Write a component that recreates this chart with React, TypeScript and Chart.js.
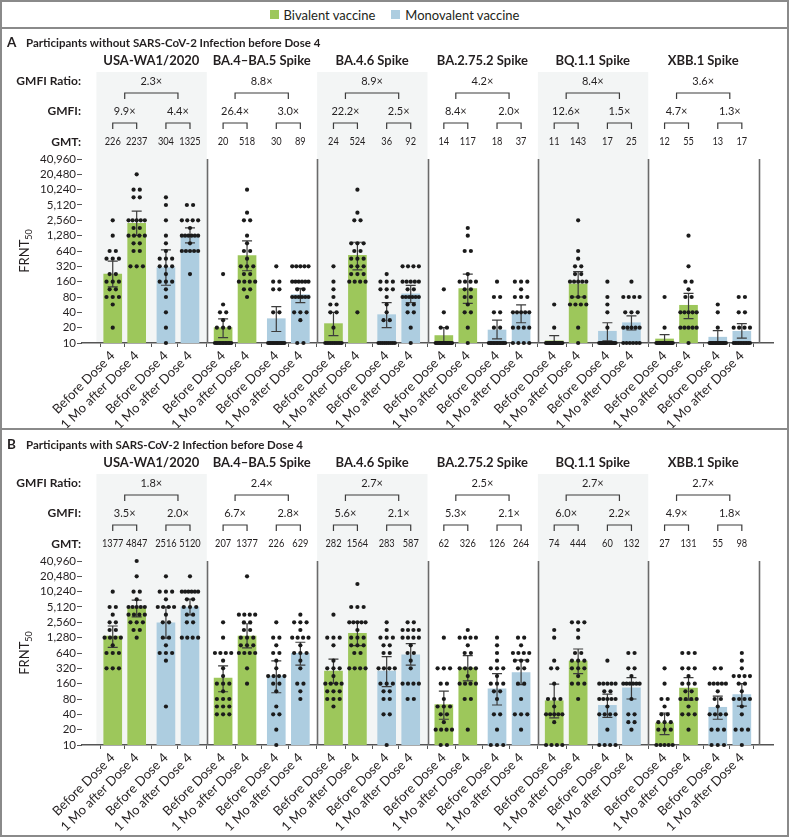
import React, { useEffect, useRef } from 'react';
import { Chart, registerables } from 'chart.js';

Chart.register(...registerables);

const FONT = 'Lato';
const INK = '#231f20';
const GREEN = '#9dc75b';
const BLUE = '#adcde0';
const SHADE = '#f3f5f5';
const RULE = '#8a8a8a';

const GROUPS = ['USA-WA1/2020', 'BA.4\u2013BA.5 Spike', 'BA.4.6 Spike', 'BA.2.75.2 Spike', 'BQ.1.1 Spike', 'XBB.1 Spike'];
const TIMEPOINTS = ['Before Dose 4', '1 Mo after Dose 4', 'Before Dose 4', '1 Mo after Dose 4'];
const Y_TICKS = [10, 20, 40, 80, 160, 320, 640, 1280, 2560, 5120, 10240, 20480, 40960];
const LEGEND = ['Bivalent vaccine', 'Monovalent vaccine'];

// slot of each of the four bars inside a group (group width = 1)
const BAR_OFFSETS = [0.148, 0.365, 0.63, 0.848];
const PX_PER_UNIT = 115.2;

type Pair = [number, number]; // [FRNT50 value, number of participants at that value]

// ---------- Panel A: without prior infection ----------
const A_TITLE = 'Participants without SARS-CoV-2 Infection before Dose 4';
const A_GMT = [226, 2237, 304, 1325, 20, 518, 30, 89, 24, 524, 36, 92, 14, 117, 18, 37, 11, 143, 17, 25, 12, 55, 13, 17];
const A_CI_LOW = [126, 1290, 136, 921, 12.7, 262, 16.8, 62, 14, 273, 20, 62, 10, 60, 12, 25, 10, 80, 11, 18, 10, 30, 10, 12.5];
const A_CI_HIGH = [405, 3890, 671, 1823, 29.8, 1010, 52, 118, 40, 950, 62, 135, 20, 226, 28, 56, 14, 253, 25, 34, 14.6, 94, 17.5, 24];
const A_GMFI = ['9.9\u00d7', '4.4\u00d7', '26.4\u00d7', '3.0\u00d7', '22.2\u00d7', '2.5\u00d7', '8.4\u00d7', '2.0\u00d7', '12.6\u00d7', '1.5\u00d7', '4.7\u00d7', '1.3\u00d7'];
const A_RATIO = ['2.3\u00d7', '8.8\u00d7', '8.9\u00d7', '4.2\u00d7', '8.4\u00d7', '3.6\u00d7'];
const A_DOTS: Pair[][] = [
  [[2560, 1], [1280, 1], [640, 2], [453, 3], [226, 2], [160, 3], [113, 2], [80, 3], [57, 1], [20, 1]],
  [[20480, 1], [10240, 2], [7240, 2], [2560, 5], [1810, 2], [1280, 4], [905, 2], [640, 2], [320, 3]],
  [[7240, 1], [5120, 1], [2560, 1], [1280, 1], [905, 1], [640, 1], [453, 3], [320, 3], [226, 1], [160, 3], [113, 1], [80, 1], [40, 1], [20, 1], [10, 1]],
  [[5120, 2], [2560, 4], [1810, 1], [1280, 6], [905, 1], [640, 5], [226, 1]],
  [[226, 1], [57, 1], [40, 2], [28, 1], [20, 3], [10, 12]],
  [[10240, 1], [3620, 1], [2560, 2], [1280, 1], [905, 1], [640, 2], [453, 1], [320, 3], [226, 2], [160, 4], [113, 2], [80, 1]],
  [[320, 1], [160, 2], [113, 2], [40, 2], [10, 13]],
  [[320, 5], [160, 6], [113, 2], [80, 6], [40, 3], [28, 1], [10, 2]],
  [[320, 1], [160, 1], [113, 1], [80, 1], [57, 2], [40, 2], [20, 1], [10, 10]],
  [[10240, 1], [3620, 1], [2560, 2], [905, 3], [640, 2], [453, 3], [320, 3], [226, 3], [160, 4], [40, 1]],
  [[226, 1], [160, 3], [113, 3], [80, 1], [57, 1], [40, 1], [28, 2], [10, 9]],
  [[320, 4], [160, 5], [113, 2], [80, 6], [57, 2], [40, 2], [20, 1], [10, 1]],
  [[113, 1], [40, 1], [20, 2], [10, 15]],
  [[1810, 1], [1280, 1], [640, 2], [226, 1], [160, 4], [113, 2], [80, 2], [57, 1], [40, 2], [20, 1], [10, 1]],
  [[160, 1], [80, 2], [40, 2], [20, 2], [10, 12]],
  [[160, 3], [113, 1], [80, 3], [40, 5], [20, 4], [10, 4]],
  [[57, 1], [20, 1], [10, 18]],
  [[2560, 1], [640, 1], [453, 1], [320, 2], [226, 2], [160, 5], [80, 3], [57, 4], [20, 1], [10, 1]],
  [[160, 1], [80, 1], [57, 1], [40, 1], [20, 1], [10, 14]],
  [[160, 1], [80, 4], [40, 3], [20, 5], [10, 6]],
  [[80, 1], [20, 1], [10, 18]],
  [[1280, 1], [320, 1], [160, 2], [113, 1], [80, 2], [40, 5], [20, 5], [10, 1]],
  [[57, 1], [40, 1], [20, 1], [10, 16]],
  [[80, 2], [40, 2], [20, 4], [10, 11]],
];

// ---------- Panel B: with prior infection ----------
const B_TITLE = 'Participants with SARS-CoV-2 Infection before Dose 4';
const B_GMT = [1377, 4847, 2516, 5120, 207, 1377, 226, 629, 282, 1564, 283, 587, 62, 326, 126, 264, 74, 444, 60, 132, 27, 131, 55, 98];
const B_CI_LOW = [828, 3270, 1250, 3600, 111, 804, 106, 370, 162, 895, 140, 370, 32, 181, 61, 153, 34, 253, 35, 80, 16, 76, 32, 58];
const B_CI_HIGH = [2170, 7000, 5080, 7300, 358, 2400, 450, 1040, 486, 2600, 541, 981, 114, 566, 253, 465, 157, 767, 100, 210, 42.5, 210, 91, 160];
const B_GMFI = ['3.5\u00d7', '2.0\u00d7', '6.7\u00d7', '2.8\u00d7', '5.6\u00d7', '2.1\u00d7', '5.3\u00d7', '2.1\u00d7', '6.0\u00d7', '2.2\u00d7', '4.9\u00d7', '1.8\u00d7'];
const B_RATIO = ['1.8\u00d7', '2.4\u00d7', '2.7\u00d7', '2.5\u00d7', '2.7\u00d7', '2.7\u00d7'];
const B_DOTS: Pair[][] = [
  [[10240, 1], [5120, 2], [3620, 1], [2560, 2], [1810, 2], [1280, 4], [905, 1], [640, 3], [320, 3]],
  [[40960, 1], [20480, 1], [10240, 2], [7240, 1], [5120, 5], [3620, 4], [2560, 3], [1810, 2], [1280, 1]],
  [[20480, 1], [10240, 3], [7240, 1], [5120, 4], [3620, 1], [2560, 2], [1280, 2], [905, 1], [640, 3], [453, 1], [57, 1]],
  [[20480, 1], [10240, 6], [7240, 2], [5120, 3], [3620, 2], [2560, 2], [1280, 4]],
  [[2560, 1], [1280, 1], [640, 4], [453, 1], [320, 1], [226, 1], [160, 3], [113, 1], [80, 3], [57, 3], [40, 3]],
  [[20480, 1], [3620, 4], [2560, 2], [1810, 2], [1280, 3], [905, 3], [640, 4], [320, 1], [160, 1]],
  [[2560, 1], [1280, 2], [905, 1], [640, 2], [453, 1], [320, 1], [226, 4], [160, 2], [113, 1], [57, 1], [40, 2], [20, 1], [10, 1]],
  [[3620, 1], [2560, 3], [1810, 1], [1280, 4], [905, 1], [640, 3], [453, 1], [320, 1], [160, 2], [113, 1], [80, 1]],
  [[3620, 1], [1280, 3], [905, 1], [453, 1], [320, 3], [226, 1], [160, 4], [113, 3], [80, 3], [57, 1]],
  [[14480, 1], [5120, 3], [2560, 5], [1810, 1], [1280, 3], [905, 3], [640, 2], [320, 4]],
  [[2560, 1], [1810, 1], [1280, 3], [905, 2], [640, 2], [320, 4], [160, 3], [113, 2], [80, 2], [40, 2], [10, 1]],
  [[2560, 2], [1810, 4], [1280, 4], [905, 1], [640, 2], [453, 1], [320, 1], [160, 4], [80, 2]],
  [[1280, 1], [320, 3], [160, 2], [80, 1], [57, 3], [40, 2], [28, 1], [20, 4], [10, 2]],
  [[1810, 1], [1280, 4], [905, 1], [640, 2], [320, 4], [226, 1], [160, 4], [80, 2], [20, 1]],
  [[1280, 1], [905, 1], [640, 1], [453, 1], [320, 3], [226, 1], [160, 3], [113, 2], [80, 1], [40, 2], [20, 1], [10, 3]],
  [[1280, 2], [905, 1], [640, 4], [453, 3], [320, 2], [160, 2], [80, 1], [40, 3], [20, 1]],
  [[1810, 1], [1280, 1], [453, 1], [320, 2], [160, 1], [80, 3], [57, 1], [40, 5], [28, 1], [10, 4]],
  [[2560, 3], [1810, 1], [1280, 1], [640, 2], [453, 3], [320, 3], [226, 1], [160, 3], [80, 1]],
  [[453, 1], [160, 5], [113, 2], [80, 5], [57, 1], [40, 4], [20, 1], [10, 4]],
  [[640, 2], [320, 2], [226, 1], [160, 6], [80, 1], [40, 2], [28, 2], [20, 1]],
  [[320, 1], [160, 1], [80, 2], [57, 1], [40, 2], [28, 3], [20, 3], [10, 5]],
  [[640, 3], [320, 3], [226, 1], [160, 3], [113, 2], [80, 4], [57, 1], [40, 3], [20, 1]],
  [[320, 2], [160, 5], [113, 1], [80, 2], [57, 1], [40, 4], [20, 3], [10, 3]],
  [[640, 1], [453, 1], [320, 1], [226, 4], [160, 2], [113, 1], [80, 4], [57, 1], [40, 1], [20, 3], [10, 1]],
];

const X_POS: number[] = [];
GROUPS.forEach((_, g) => BAR_OFFSETS.forEach((o) => X_POS.push(g + o)));

function expandDots(dots: Pair[][]) {
  const pts: { x: number; y: number }[] = [];
  dots.forEach((bar, i) => {
    bar.forEach(([v, n]) => {
      const span = n > 1 ? Math.min(17, (n - 1) * 6.5) : 0;
      for (let k = 0; k < n; k++) {
        const off = n > 1 ? -span / 2 + (k * span) / (n - 1) : 0;
        pts.push({ x: X_POS[i] + off / PX_PER_UNIT, y: v });
      }
    });
  });
  return pts;
}

const PLOT_TOP = 129;
const PLOT_BOTTOM = 313;

interface PanelProps {
  letter: string;
  title: string;
  gmt: number[];
  ciLow: number[];
  ciHigh: number[];
  gmfi: string[];
  ratio: string[];
  dots: Pair[][];
  top: number;
  height: number;
}

function Panel(p: PanelProps) {
  const ref = useRef<HTMLCanvasElement | null>(null);
  useEffect(() => {
    if (!ref.current) return;
    const H = p.height;
    const decor = {
      id: 'decor',
      beforeDraw(chart: any) {
        const { ctx, chartArea: ca } = chart;
        const x = chart.scales.x;
        ctx.save();
        ctx.fillStyle = SHADE;
        [0, 2, 4].forEach((g) => {
          const x0 = x.getPixelForValue(g);
          const x1 = x.getPixelForValue(g + 1);
          ctx.fillRect(x0, ca.top - 87, x1 - x0, ca.bottom - ca.top + 87);
        });
        ctx.restore();
      },
      beforeDatasetsDraw(chart: any) {
        const { ctx, chartArea: ca } = chart;
        const x = chart.scales.x;
        ctx.save();
        ctx.strokeStyle = '#6a6a6a';
        ctx.lineWidth = 1.6;
        for (let g = 1; g <= GROUPS.length; g++) {
          const px = Math.round(x.getPixelForValue(g)) + 0.5;
          ctx.beginPath();
          ctx.moveTo(px, ca.top);
          ctx.lineTo(px, ca.bottom);
          ctx.stroke();
        }
        ctx.restore();
      },
      afterDatasetDraw(chart: any, args: any) {
        if (args.index !== 1) return;
        const { ctx } = chart;
        const x = chart.scales.x;
        const y = chart.scales.y;
        ctx.save();
        ctx.strokeStyle = '#3c3c3c';
        ctx.lineWidth = 1.2;
        X_POS.forEach((xv, i) => {
          const px = x.getPixelForValue(xv);
          const yl = y.getPixelForValue(p.ciLow[i]);
          const yh = y.getPixelForValue(p.ciHigh[i]);
          ctx.beginPath();
          ctx.moveTo(px, yl);
          ctx.lineTo(px, yh);
          ctx.moveTo(px - 5, yl);
          ctx.lineTo(px + 5, yl);
          ctx.moveTo(px - 5, yh);
          ctx.lineTo(px + 5, yh);
          ctx.stroke();
        });
        ctx.restore();
      },
      afterDraw(chart: any) {
        const { ctx, chartArea: ca } = chart;
        const x = chart.scales.x;
        const T = ca.top;
        ctx.save();
        ctx.fillStyle = INK;
        ctx.strokeStyle = '#3c3c3c';
        ctx.lineWidth = 1.2;
        ctx.textBaseline = 'middle';
        // panel title
        ctx.textAlign = 'left';
        ctx.font = `bold 13.5px ${FONT}`;
        ctx.fillText(p.letter, 5, T - 116);
        ctx.font = `bold 11.5px ${FONT}`;
        ctx.fillText(p.title, 24, T - 116);
        // row labels
        ctx.textAlign = 'right';
        ctx.font = `bold 12px ${FONT}`;
        ctx.fillText('GMFI Ratio:', ca.left - 1, T - 78);
        ctx.fillText('GMFI:', ca.left - 1, T - 48);
        ctx.fillText('GMT:', ca.left - 1, T - 17);
        ctx.textAlign = 'center';
        const bracket = (a: number, b: number, yTop: number, yEnd: number) => {
          ctx.beginPath();
          ctx.moveTo(a, yEnd);
          ctx.lineTo(a, yTop);
          ctx.lineTo(b, yTop);
          ctx.lineTo(b, yEnd);
          ctx.stroke();
        };
        GROUPS.forEach((name, g) => {
          const px = [0, 1, 2, 3].map((k) => x.getPixelForValue(X_POS[g * 4 + k]));
          const m1 = (px[0] + px[1]) / 2;
          const m2 = (px[2] + px[3]) / 2;
          const mc = (px[1] + px[2]) / 2;
          ctx.font = `bold 13px ${FONT}`;
          ctx.fillText(name, mc, T - 98);
          ctx.font = `11px ${FONT}`;
          ctx.fillText(p.ratio[g], (m1 + m2) / 2, T - 78);
          bracket(m1, m2, T - 66, T - 60);
          ctx.fillText(p.gmfi[g * 2], m1, T - 48);
          ctx.fillText(p.gmfi[g * 2 + 1], m2, T - 48);
          bracket(px[0], px[1], T - 36, T - 30);
          bracket(px[2], px[3], T - 36, T - 30);
          ctx.font = `10.5px ${FONT}`;
          px.forEach((v, k) => {
            ctx.save();
            ctx.translate(v, T - 17);
            ctx.scale(0.88, 1);
            ctx.fillText(String(p.gmt[g * 4 + k]), 0, 0);
            ctx.restore();
          });
        });
        // y axis title FRNT50
        ctx.translate(23, (ca.top + ca.bottom) / 2);
        ctx.rotate(-Math.PI / 2);
        ctx.font = `13px ${FONT}`;
        const w1 = ctx.measureText('FRNT').width;
        ctx.font = `9px ${FONT}`;
        const w2 = ctx.measureText('50').width;
        ctx.textAlign = 'left';
        ctx.font = `13px ${FONT}`;
        ctx.fillText('FRNT', -(w1 + w2) / 2, 0);
        ctx.font = `9px ${FONT}`;
        ctx.fillText('50', -(w1 + w2) / 2 + w1, 4);
        ctx.restore();
      },
    };

    const chart = new Chart(ref.current, {
      type: 'bar',
      data: {
        datasets: [
          {
            type: 'scatter',
            data: expandDots(p.dots),
            pointRadius: 2.1,
            pointBackgroundColor: '#1b1b1b',
            pointBorderWidth: 0,
            showLine: false,
            clip: false,
          } as any,
          {
            type: 'bar',
            data: X_POS.map((xv, i) => ({ x: xv, y: p.gmt[i] })),
            backgroundColor: X_POS.map((_, i) => (i % 4 < 2 ? GREEN : BLUE)),
            barThickness: 18,
            borderWidth: 0,
          } as any,
        ],
      },
      options: {
        responsive: false,
        animation: false,
        events: [],
        layout: { padding: { top: PLOT_TOP, right: 15, left: 0, bottom: 0 } },
        plugins: { legend: { display: false }, tooltip: { enabled: false } },
        scales: {
          x: {
            type: 'linear',
            min: 0,
            max: GROUPS.length,
            afterBuildTicks: (s: any) => {
              s.ticks = X_POS.map((v) => ({ value: v }));
            },
            afterFit: (s: any) => {
              s.height = H - PLOT_BOTTOM;
            },
            ticks: {
              autoSkip: false,
              minRotation: 45,
              maxRotation: 45,
              padding: 1,
              color: INK,
              font: { family: FONT, size: 13 },
              callback: (_v: any, i: number) => TIMEPOINTS[i % 4],
            },
            grid: { drawOnChartArea: false, drawTicks: true, tickLength: 4, color: '#555' },
            border: { display: true, color: '#555', width: 1.5 },
          },
          y: {
            type: 'logarithmic',
            min: 10,
            max: 40960,
            afterBuildTicks: (s: any) => {
              s.ticks = Y_TICKS.map((v) => ({ value: v }));
            },
            afterFit: (s: any) => {
              s.width = 80;
            },
            ticks: {
              autoSkip: false,
              padding: 1,
              color: INK,
              font: { family: FONT, size: 11.5 },
              callback: (v: any) => Number(v).toLocaleString('en-US'),
            },
            grid: { drawOnChartArea: false, drawTicks: true, tickLength: 5, color: '#555' },
            border: { display: false },
          },
        },
      } as any,
      plugins: [decor],
    });
    return () => chart.destroy();
  }, []);
  return (
    <div style={{ position: 'absolute', left: 2, top: p.top, width: 786, height: p.height }}>
      <canvas ref={ref} width={786} height={p.height} style={{ display: 'block' }} />
    </div>
  );
}

export default function App() {
  const sq = (c: string) => ({ display: 'inline-block', width: 9, height: 9, background: c, marginRight: 5 });
  return (
    <div style={{ position: 'fixed', left: 0, top: 0, width: 791, height: 838, background: '#fff', fontFamily: FONT, color: INK }}>
      <div style={{ position: 'absolute', left: 0, top: 0, width: 789, height: 837, border: `2px solid ${RULE}`, boxSizing: 'border-box' }} />
      <div style={{ position: 'absolute', left: 0, top: 27, width: 789, height: 2, background: RULE }} />
      <div style={{ position: 'absolute', left: 0, top: 428, width: 789, height: 2, background: RULE }} />
      <div style={{ position: 'absolute', left: 0, top: 2, width: 789, height: 25, display: 'flex', alignItems: 'center', justifyContent: 'center', fontSize: 13 }}>
        <span style={sq(GREEN)} />
        <span style={{ marginRight: 16 }}>{LEGEND[0]}</span>
        <span style={sq(BLUE)} />
        <span>{LEGEND[1]}</span>
      </div>
      <Panel letter="A" title={A_TITLE} gmt={A_GMT} ciLow={A_CI_LOW} ciHigh={A_CI_HIGH} gmfi={A_GMFI} ratio={A_RATIO} dots={A_DOTS} top={30} height={398} />
      <Panel letter="B" title={B_TITLE} gmt={B_GMT} ciLow={B_CI_LOW} ciHigh={B_CI_HIGH} gmfi={B_GMFI} ratio={B_RATIO} dots={B_DOTS} top={432} height={403} />
    </div>
  );
}
